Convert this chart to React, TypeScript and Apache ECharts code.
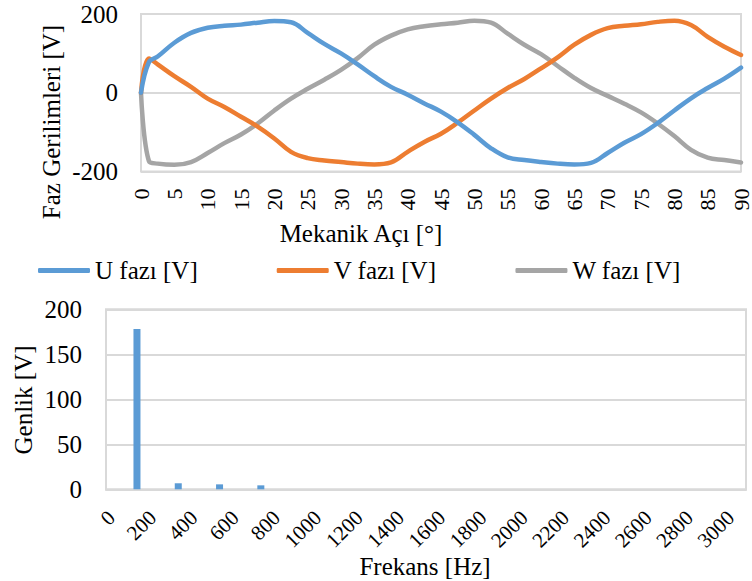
import React, { useEffect, useRef } from 'react';
import * as echarts from 'echarts';

const FONT = 'Times New Roman';

// Top chart: phase voltages vs mechanical angle
const angles = [0, 1.2, 2.5, 5, 7.5, 10, 12.5, 15, 17.5, 20, 22.5, 25, 27.5, 30, 32.5, 35, 37.5, 40, 42.5, 45, 47.5, 50, 52.5, 55, 57.5, 60, 62.5, 65, 67.5, 70, 72.5, 75, 77.5, 80, 82.5, 85, 87.5, 90];
const uPhase = [0, 78, 92, 127, 152, 165, 170, 173, 178, 182, 179, 152, 124, 100, 72, 42, 15, -5, -27, -48, -75, -107, -141, -164, -171, -176, -180, -182, -178, -153, -127, -105, -77, -45, -14, 12, 36, 64];
const vPhase = [0, 87, 72, 42, 15, -15, -36, -61, -86, -116, -150, -166, -172, -176, -180, -182, -177, -150, -125, -104, -76, -45, -15, 12, 35, 62, 90, 122, 147, 164, 170, 174, 180, 183, 172, 142, 117, 96];
const wPhase = [0, -174, -180, -183, -176, -153, -128, -106, -78, -45, -15, 10, 33, 58, 88, 122, 145, 161, 169, 174, 178, 183, 178, 150, 122, 98, 68, 38, 12, -8, -28, -50, -78, -110, -145, -165, -171, -177];
const seriesNames = ['U fazı [V]', 'V fazı [V]', 'W fazı [V]'];
const seriesColors = ['#5B9BD5', '#ED7D31', '#A5A5A5'];

// Bottom chart: harmonic spectrum
const freqCategories = ['0', '100', '200', '300', '400', '500', '600', '700', '800', '900', '1000', '1100', '1200', '1300', '1400', '1500', '1600', '1700', '1800', '1900', '2000', '2100', '2200', '2300', '2400', '2500', '2600', '2700', '2800', '2900', '3000'];
const amplitudes = [0, 178, 0, 6.7, 0, 5.5, 0, 4.4, 0, 0, 0, 0, 0, 0, 0, 0, 0, 0, 0, 0, 0, 0, 0, 0, 0, 0, 0, 0, 0, 0, 0];

export default function App() {
  const ref = useRef<HTMLDivElement>(null);
  useEffect(() => {
    document.body.style.margin = '0';
    const chart = echarts.init(ref.current!, null, { renderer: 'svg' });
    const phases = [uPhase, vPhase, wPhase];
    const gridLine = { color: '#D9D9D9', width: 2 };
    chart.setOption({
      animation: false,
      backgroundColor: '#ffffff',
      textStyle: { fontFamily: FONT, color: '#000' },
      grid: [
        { left: 141, top: 14, width: 602, height: 157.5, show: true, borderColor: '#D9D9D9', borderWidth: 2 },
        { left: 106, top: 309.3, width: 640, height: 180, show: true, borderColor: '#D9D9D9', borderWidth: 2 },
      ],
      xAxis: [
        {
          type: 'value', gridIndex: 0, min: 0, max: 90, interval: 5,
          axisLine: { show: false }, axisTick: { show: false }, splitLine: { show: false },
          axisLabel: { rotate: 90, fontSize: 22, color: '#000', fontFamily: FONT, margin: 17 },
        },
        {
          type: 'category', gridIndex: 1, data: freqCategories,
          axisLine: { show: true, lineStyle: gridLine }, axisTick: { show: false },
          axisLabel: { interval: 1, rotate: 45, fontSize: 21, color: '#000', fontFamily: FONT, margin: 20, padding: [0, 7, 0, 0] },
        },
      ],
      yAxis: [
        {
          type: 'value', gridIndex: 0, min: -200, max: 200, interval: 200,
          axisLine: { show: false }, axisTick: { show: false },
          splitLine: { show: true, lineStyle: gridLine },
          axisLabel: { fontSize: 25, color: '#000', fontFamily: FONT, margin: 23 },
        },
        {
          type: 'value', gridIndex: 1, min: 0, max: 200, interval: 50,
          axisLine: { show: false }, axisTick: { show: false },
          splitLine: { show: true, lineStyle: gridLine },
          axisLabel: { fontSize: 25, color: '#000', fontFamily: FONT, margin: 24 },
        },
      ],
      legend: {
        data: seriesNames, left: 33, top: 253, itemWidth: 52, itemHeight: 5, itemGap: 79,
        icon: 'roundRect',
        textStyle: { fontSize: 25, color: '#000', fontFamily: FONT },
      },
      graphic: [
        { type: 'text', x: 51, y: 122, rotation: Math.PI / 2, style: { text: 'Faz Gerilimleri [V]', fontSize: 25, fontFamily: FONT, fill: '#000', align: 'center', verticalAlign: 'middle' } },
        { type: 'text', x: 361, y: 233, style: { text: 'Mekanik Açı [°]', fontSize: 25, fontFamily: FONT, fill: '#000', align: 'center', verticalAlign: 'middle' } },
        { type: 'text', x: 23, y: 400, rotation: Math.PI / 2, style: { text: 'Genlik [V]', fontSize: 25, fontFamily: FONT, fill: '#000', align: 'center', verticalAlign: 'middle' } },
        { type: 'text', x: 425, y: 566, style: { text: 'Frekans [Hz]', fontSize: 25, fontFamily: FONT, fill: '#000', align: 'center', verticalAlign: 'middle' } },
      ],
      series: [
        ...phases.map((vals, k) => ({
          name: seriesNames[k], type: 'line', xAxisIndex: 0, yAxisIndex: 0,
          data: angles.map((a, i) => [a, vals[i]]),
          showSymbol: false, smooth: 0.4,
          itemStyle: { color: seriesColors[k] },
          lineStyle: { color: seriesColors[k], width: 4.5, cap: 'round', join: 'round' },
          z: 3 - k,
        })),
        {
          name: 'Genlik [V]', type: 'bar', xAxisIndex: 1, yAxisIndex: 1,
          data: amplitudes, barWidth: 7,
          itemStyle: { color: '#5B9BD5' },
        },
      ],
    });
    return () => chart.dispose();
  }, []);
  return <div ref={ref} style={{ width: 752, height: 581 }} />;
}
